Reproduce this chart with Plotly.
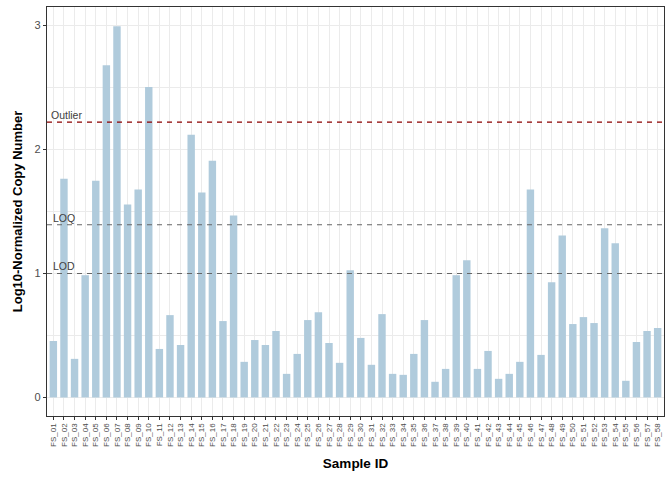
import plotly.graph_objects as go

samples = [f"FS_{i:02d}" for i in range(1, 59)]
values = [0.455, 1.765, 0.311, 0.986, 1.749, 2.681, 2.995, 1.556, 1.677, 2.505,
          0.391, 0.664, 0.423, 2.119, 1.653, 1.910, 0.616, 1.468, 0.287, 0.463,
          0.423, 0.536, 0.190, 0.351, 0.624, 0.688, 0.439, 0.279, 1.026, 0.480,
          0.263, 0.672, 0.190, 0.182, 0.351, 0.624, 0.126, 0.230, 0.986, 1.106,
          0.230, 0.375, 0.150, 0.190, 0.287, 1.677, 0.343, 0.930, 1.307, 0.592,
          0.648, 0.600, 1.364, 1.243, 0.134, 0.447, 0.536, 0.560]

threshold_names = ["Outlier", "LOQ", "LOD"]
threshold_values = [2.221, 1.393, 1.0]
threshold_colors = ["#8B0000", "#666666", "#666666"]
label_x = [-0.4, -0.2, -0.2]

fig = go.Figure()
fig.add_trace(go.Bar(x=samples, y=values, width=0.7,
                     marker=dict(color="#B0CBDC", line=dict(width=0)),
                     showlegend=False))

for name, val, col, lx in zip(threshold_names, threshold_values, threshold_colors, label_x):
    fig.add_shape(type="line", xref="x", yref="y", x0=-0.6, x1=57.6, y0=val, y1=val,
                  line=dict(color=col, width=1.1, dash="5px,5px"), layer="above")
    fig.add_annotation(x=lx, y=val, xref="x", yref="y", text=name, showarrow=False,
                       xanchor="left", yanchor="bottom", yshift=-1,
                       font=dict(family="Liberation Sans, Arial", size=10.5, color="#404040"))

fig.update_layout(
    width=672, height=480,
    margin=dict(l=47, r=8, t=7, b=64, autoexpand=False),
    paper_bgcolor="white", plot_bgcolor="white",
    font=dict(family="Liberation Sans, Arial", color="#4D4D4D"),
    bargap=0.3,
)
fig.update_xaxes(
    type="category", range=[-0.6, 57.6], autorange=False, automargin=False,
    tickangle=-90, tickfont=dict(size=8, color="#4D4D4D"),
    ticks="outside", ticklen=3, tickcolor="#333333", tickwidth=1,
    showgrid=True, gridcolor="#EBEBEB", gridwidth=1,
    showline=True, linecolor="#333333", linewidth=1.3, mirror=True,
    title=dict(text="<b>Sample ID</b>", font=dict(size=13.5, color="black"), standoff=12),
    zeroline=False,
)
fig.update_yaxes(
    range=[-0.15, 3.15], autorange=False, automargin=False, tickvals=[0, 1, 2, 3],
    tickfont=dict(size=11, color="#4D4D4D"),
    ticks="outside", ticklen=3, tickcolor="#333333", tickwidth=1,
    showgrid=True, gridcolor="#EBEBEB", gridwidth=1,
    minor=dict(tickvals=[0.5, 1.5, 2.5], showgrid=True, gridcolor="#EBEBEB", gridwidth=1, ticks=""),
    showline=True, linecolor="#333333", linewidth=1.3, mirror=True,
    title=dict(text="<b>Log10-Normalized Copy Number</b>", font=dict(size=13, color="black"), standoff=8),
    zeroline=False,
)

fig.write_html("out.html", config={"displayModeBar": False},
               post_script="document.body.style.margin='0';document.body.style.overflow='hidden';")
